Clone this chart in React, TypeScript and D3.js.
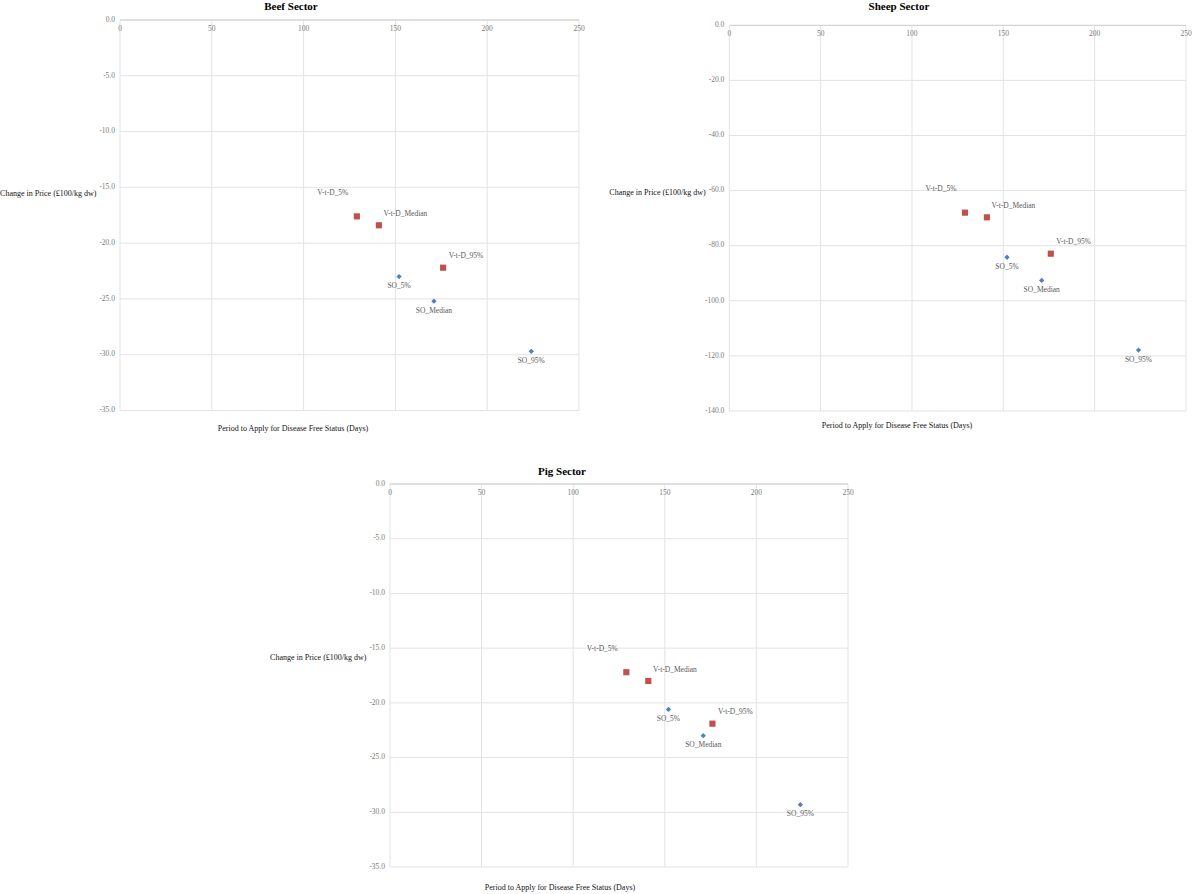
import React from "react";
import * as d3 from "d3";

// ---- data ----
const soLabels = ["SO_5%", "SO_Median", "SO_95%"];
const vtdLabels = ["V-t-D_5%", "V-t-D_Median", "V-t-D_95%"];
const soDays = [152, 171, 224];
const vtdDays = [129, 141, 176];

const beefSO = [-23.0, -25.2, -29.7];
const beefVtD = [-17.6, -18.4, -22.2];
const sheepSO = [-84.2, -92.6, -117.9];
const sheepVtD = [-68.0, -69.7, -82.9];
const pigSO = [-20.6, -23.0, -29.3];
const pigVtD = [-17.2, -18.0, -21.9];

const xTicks = [0, 50, 100, 150, 200, 250];
const smallYTicks = [0, -5, -10, -15, -20, -25, -30, -35];
const sheepYTicks = [0, -20, -40, -60, -80, -100, -120, -140];

const titles = ["Beef Sector", "Sheep Sector", "Pig Sector"];
const xTitle = "Period to Apply for Disease Free Status (Days)";
const yTitle = "Change in Price (£100/kg dw)";

// ---- styles / layout ----
const FONT = "'Liberation Serif', 'Times New Roman', serif";
const RED = "#C0504D";
const BLUE = "#4F81BD";
const GRID = "#e3e3e3";
const AXIS = "#d4d4d4";

const fmt = d3
  .formatLocale({ decimal: ".", thousands: ",", grouping: [3], currency: ["", ""], minus: "-" })
  .format(".1f");

// label offsets relative to marker
const vtdOffsets = [
  { dx: -24, dy: -23, anchor: "middle" },
  { dx: 4.6, dy: -11, anchor: "start" },
  { dx: 5.5, dy: -11, anchor: "start" },
];
const soOffsets = [
  { dx: 0, dy: 10, anchor: "middle" },
  { dx: 0, dy: 10, anchor: "middle" },
  { dx: 0, dy: 10, anchor: "middle" },
];

type PanelCfg = {
  title: string;
  left: number;
  right: number;
  top: number;
  bottom: number;
  yMin: number;
  yTicks: number[];
  so: number[];
  vtd: number[];
  titleX: number;
  titleY: number;
  xTitleX: number;
  xTitleY: number;
  yTitleY: number;
};

const panels: PanelCfg[] = [
  {
    title: titles[0], left: 120, right: 579, top: 20, bottom: 410.5, yMin: -35, yTicks: smallYTicks,
    so: beefSO, vtd: beefVtD, titleX: 291, titleY: 7, xTitleX: 293, xTitleY: 428.7, yTitleY: 194,
  },
  {
    title: titles[1], left: 729.3, right: 1186, top: 25.3, bottom: 411, yMin: -140, yTicks: sheepYTicks,
    so: sheepSO, vtd: sheepVtD, titleX: 899, titleY: 7, xTitleX: 897, xTitleY: 426, yTitleY: 193,
  },
  {
    title: titles[2], left: 390, right: 848, top: 484, bottom: 867, yMin: -35, yTicks: smallYTicks,
    so: pigSO, vtd: pigVtD, titleX: 562, titleY: 472.3, xTitleX: 560, xTitleY: 888, yTitleY: 658.3,
  },
];

const squarePath = d3.symbol(d3.symbolSquare, 38)() as string;
const diamondPath = d3.symbol(d3.symbolDiamond2, 18)() as string;

function Panel({ cfg }: { cfg: PanelCfg }) {
  const x = d3.scaleLinear().domain([0, 250]).range([cfg.left, cfg.right]);
  const y = d3.scaleLinear().domain([0, cfg.yMin]).range([cfg.top, cfg.bottom]);
  return (
    <g>
      {/* vertical gridlines */}
      {xTicks.map((t) => (
        <line key={"vx" + t} x1={x(t)} x2={x(t)} y1={y(0)} y2={y(cfg.yMin)} stroke={GRID} strokeWidth={1} />
      ))}
      {/* horizontal gridlines */}
      {cfg.yTicks.map((t) => (
        <line key={"hy" + t} x1={x(0)} x2={x(250)} y1={y(t)} y2={y(t)} stroke={t === 0 ? AXIS : GRID} strokeWidth={t === 0 ? 1.3 : 1} />
      ))}
      {/* x tick labels under the zero axis */}
      {xTicks.map((t) => (
        <text key={"xl" + t} x={x(t)} y={y(0) + 9} fontSize={7.5} fill="#7a7a7a" textAnchor="middle" dominantBaseline="middle" fontFamily={FONT}>
          {t}
        </text>
      ))}
      {/* y tick labels */}
      {cfg.yTicks.map((t) => (
        <text key={"yl" + t} x={x(0) - 5} y={y(t)} fontSize={7.5} fill="#7a7a7a" textAnchor="end" dominantBaseline="middle" fontFamily={FONT}>
          {fmt(t)}
        </text>
      ))}
      {/* series */}
      {cfg.vtd.map((v, i) => (
        <g key={"vtd" + i}>
          <path d={squarePath} transform={`translate(${x(vtdDays[i])},${y(v)})`} fill={RED} />
          <text x={x(vtdDays[i]) + vtdOffsets[i].dx} y={y(v) + vtdOffsets[i].dy} fontSize={7.5} fill="#595959" textAnchor={vtdOffsets[i].anchor as any} dominantBaseline="middle" fontFamily={FONT}>
            {vtdLabels[i]}
          </text>
        </g>
      ))}
      {cfg.so.map((v, i) => (
        <g key={"so" + i}>
          <path d={diamondPath} transform={`translate(${x(soDays[i])},${y(v)})`} fill={BLUE} />
          <text x={x(soDays[i]) + soOffsets[i].dx} y={y(v) + soOffsets[i].dy} fontSize={7.5} fill="#595959" textAnchor={soOffsets[i].anchor as any} dominantBaseline="middle" fontFamily={FONT}>
            {soLabels[i]}
          </text>
        </g>
      ))}
      {/* titles */}
      <text x={cfg.titleX} y={cfg.titleY} fontSize={11} fontWeight="bold" fill="#000" textAnchor="middle" dominantBaseline="middle" fontFamily={FONT}>
        {cfg.title}
      </text>
      <text x={cfg.xTitleX} y={cfg.xTitleY} fontSize={8} fill="#111" textAnchor="middle" dominantBaseline="middle" fontFamily={FONT}>
        {xTitle}
      </text>
      <text x={cfg.left - 23.5} y={cfg.yTitleY} fontSize={8} fill="#111" textAnchor="end" dominantBaseline="middle" fontFamily={FONT}>
        {yTitle}
      </text>
    </g>
  );
}

export default function App() {
  return (
    <svg width={1192} height={894} style={{ position: "absolute", left: 0, top: 0, background: "#fff" }}>
      <rect x={0} y={0} width={1192} height={894} fill="#fff" />
      {panels.map((p) => (
        <Panel key={p.title} cfg={p} />
      ))}
    </svg>
  );
}
